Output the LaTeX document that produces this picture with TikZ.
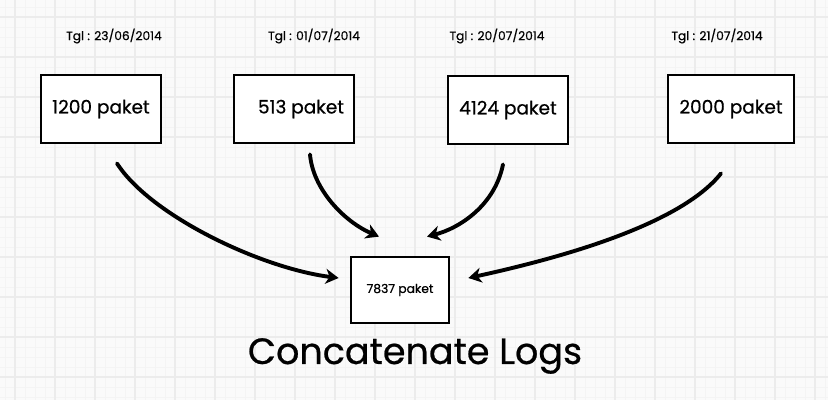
\documentclass[tikz,border=0pt]{standalone}
\usepackage{fontspec}
\setmainfont{Poppins}[FakeBold=0.6,AutoFakeBold=0.6]
\usetikzlibrary{arrows.meta,calc}
\definecolor{bgc}{HTML}{FAFAFA}
\definecolor{minorc}{HTML}{F4F4F4}
\definecolor{majorc}{HTML}{ECECEC}
\tikzset{
  pbox/.style={draw=black, line width=2.8pt, fill=white, minimum width=120pt, minimum height=68pt, inner sep=0pt, font=\fontsize{18.5}{22}\selectfont},
  cbox/.style={draw=black, line width=2.8pt, fill=white, minimum width=98pt, minimum height=66pt, inner sep=0pt, font=\fontsize{12.3}{15}\selectfont},
  datelbl/.style={inner sep=0pt, font=\fontsize{12.2}{15}\selectfont},
  flow/.style={line width=3.9pt, line cap=round, -{Stealth[length=13pt,width=15pt,inset=4pt]}},
}
\begin{document}
\begin{tikzpicture}[x=1pt,y=-1pt]
\useasboundingbox (0,0) rectangle (828,400);
\fill[bgc] (0,0) rectangle (828,400);
% minor grid
\foreach \x in {5,15,...,825} \draw[minorc, line width=0.8pt] (\x,0) -- (\x,400);
\foreach \y in {7,17,...,397} \draw[minorc, line width=0.8pt] (0,\y) -- (828,\y);
% major grid
\foreach \x in {15,55,...,815} \draw[majorc, line width=1.2pt] (\x,0) -- (\x,400);
\foreach \y in {17,57,...,377} \draw[majorc, line width=1.2pt] (0,\y) -- (828,\y);

% date labels
\node[datelbl] (l1) at (114,36) {Tgl : 23/06/2014};
\node[datelbl] (l2) at (314,36) {Tgl : 01/07/2014};
\node[datelbl] (l3) at (497,36) {Tgl : 20/07/2014};
\node[datelbl] (l4) at (717,36) {Tgl : 21/07/2014};

% boxes
\node[pbox] (b1) at (101,109) {1200 paket};
\node[pbox] (b2) at (294,109) {\hspace*{14pt}513 paket};
\node[pbox] (b3) at (508,110) {4124 paket};
\node[pbox, minimum width=126pt] (b4) at (731,109) {2000 paket};
\node[cbox] (c) at (400,290) {7837 paket};

% title
\node[inner sep=0pt, font=\fontsize{36.5}{42}\selectfont] (t) at (415,356) {Concatenate Logs};

% connector ends
\coordinate (s1) at ($(b1.south)+(16,19)$);
\coordinate (s2) at ($(b2.south)+(16,10)$);
\coordinate (s3) at ($(b3.south)+(-5,19)$);
\coordinate (s4) at ($(b4.south)+(-10,29)$);
\coordinate (e1) at ($(c.west)+(-11,-12)$);
\coordinate (e2) at ($(c.north)+(-21,-19)$);
\coordinate (e3) at ($(c.north)+(27,-19)$);
\coordinate (e4) at ($(c.east)+(18,-12)$);

\draw[flow] (s1) .. controls (150,215) and (260,268) .. (e1);
\draw[flow] (s2) .. controls (313,190) and (345,222) .. (e2);
\draw[flow] (s3) .. controls (495,205) and (460,228) .. (e3);
\draw[flow] (s4) .. controls (680,225) and (560,258) .. (e4);
\end{tikzpicture}
\end{document}
